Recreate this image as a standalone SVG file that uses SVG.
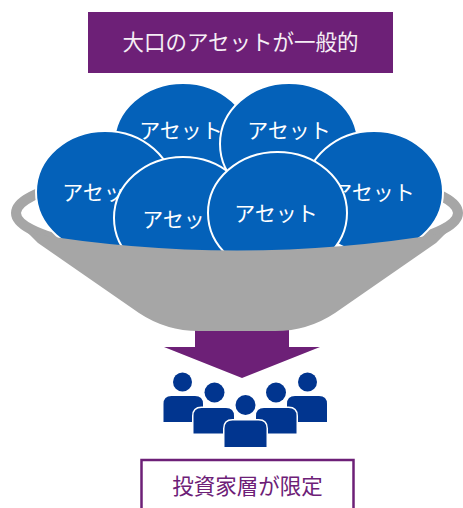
<svg xmlns="http://www.w3.org/2000/svg" width="463" height="508" viewBox="0 0 463 508">
  <style>
    .jp { font-family: "Noto Sans CJK JP", "Noto Sans", sans-serif; text-anchor: middle; }
    .asset ellipse { fill: #0461B9; stroke: #FFFFFF; stroke-width: 2; }
    .asset text { fill: #FFFFFF; font-size: 21px; }
    .person { fill: #01358F; stroke: #FFFFFF; stroke-width: 3; paint-order: stroke; }
    .purple { fill: #6D2077; }
    .bowl { fill: #A6A6A6; }
  </style>

  <!-- header label -->
  <g id="header">
    <rect class="purple" x="88" y="12" width="305" height="61"/>
    <text class="jp" x="240.5" y="50" font-size="21.5" fill="#F5EEF5">大口のアセットが一般的</text>
  </g>

  <!-- flow arrow (shaft tucked under the bowl) -->
  <g id="connectors">
    <path class="purple" d="M195,318 L289,318 L289,347 L320,347 L242,378 L164,347 L195,347 Z"/>
  </g>

  <!-- back rim of the bowl -->
  <g id="bowl-rim">
    <ellipse cx="237" cy="213" rx="221" ry="45" fill="none" stroke="#A6A6A6" stroke-width="10"/>
  </g>

  <!-- assets, back to front -->
  <g id="asset-a" class="asset">
    <ellipse cx="183" cy="144" rx="69" ry="61"/>
    <text class="jp" x="181" y="138">アセット</text>
  </g>
  <g id="asset-b" class="asset">
    <ellipse cx="289" cy="144" rx="69" ry="61"/>
    <text class="jp" x="289" y="138">アセット</text>
  </g>
  <g id="asset-c" class="asset">
    <ellipse cx="105" cy="192" rx="69" ry="61"/>
    <text class="jp" x="104" y="199.5">アセット</text>
  </g>
  <g id="asset-d" class="asset">
    <ellipse cx="374" cy="192" rx="69" ry="61"/>
    <text class="jp" x="373" y="199.5">アセット</text>
  </g>
  <g id="asset-e" class="asset">
    <ellipse cx="183" cy="218" rx="69" ry="61"/>
    <text class="jp" x="184" y="226.5">アセット</text>
  </g>
  <g id="asset-f" class="asset">
    <ellipse cx="277.5" cy="213" rx="69.5" ry="61"/>
    <text class="jp" x="276" y="220.5">アセット</text>
  </g>

  <!-- bowl body in front of the assets -->
  <g id="bowl">
    <path class="bowl" d="M28,233 Q237,268 446,233 L436,243 L335,313 Q308,331 275,331 L199,331 Q166,331 139,313 L38,243 Z"/>
  </g>

  <!-- investors -->
  <g id="investors">
    <g class="person">
      <circle cx="182.5" cy="382" r="9.5"/>
      <path d="M163.5,422 L163.5,404 Q163.5,396 171.5,396 L195,396 Q203,396 203,404 L203,422 Z"/>
    </g>
    <g class="person">
      <circle cx="307.5" cy="382" r="9.5"/>
      <path d="M287,422 L287,404 Q287,396 295,396 L319,396 Q327,396 327,404 L327,422 Z"/>
    </g>
    <g class="person">
      <circle cx="214.5" cy="392.5" r="10"/>
      <path d="M193.5,433.5 L193.5,416 Q193.5,408 201.5,408 L226,408 Q234,408 234,416 L234,433.5 Z"/>
    </g>
    <g class="person">
      <circle cx="276" cy="392.5" r="10"/>
      <path d="M256,433.5 L256,416 Q256,408 264,408 L288.5,408 Q296.5,408 296.5,416 L296.5,433.5 Z"/>
    </g>
    <g class="person">
      <circle cx="245.5" cy="405" r="10"/>
      <path d="M224.5,447 L224.5,428.5 Q224.5,420.5 232.5,420.5 L258.5,420.5 Q266.5,420.5 266.5,428.5 L266.5,447 Z"/>
    </g>
  </g>

  <!-- footer label -->
  <g id="footer">
    <rect x="141.5" y="460" width="212" height="60" fill="#FFFFFF" stroke="#6D2077" stroke-width="2.5"/>
    <text class="jp" x="247.5" y="494" font-size="21.5" fill="#6D2077">投資家層が限定</text>
  </g>
</svg>
